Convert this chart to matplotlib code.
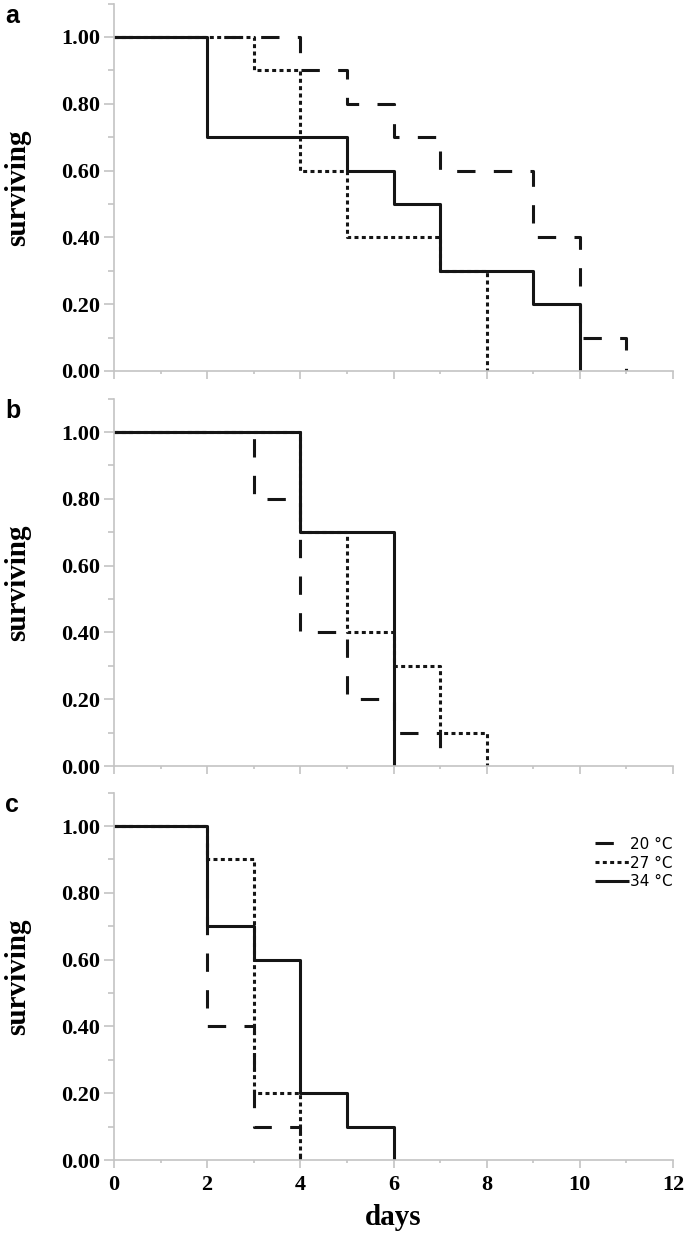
import matplotlib
matplotlib.use('Agg')
import matplotlib.pyplot as plt
from matplotlib.ticker import MultipleLocator, FormatStrFormatter

# survival data (days, fraction surviving), step after each day
labels = ['20 \u00b0C', '27 \u00b0C', '34 \u00b0C']

a_days_20 = [0, 4, 5, 6, 7, 9, 10, 11]
a_surv_20 = [1.0, 0.9, 0.8, 0.7, 0.6, 0.4, 0.1, 0.0]
a_days_27 = [0, 3, 4, 5, 7, 8]
a_surv_27 = [1.0, 0.9, 0.6, 0.4, 0.3, 0.0]
a_days_34 = [0, 2, 5, 6, 7, 9, 10]
a_surv_34 = [1.0, 0.7, 0.6, 0.5, 0.3, 0.2, 0.0]

b_days_20 = [0, 3, 4, 5, 6, 7]
b_surv_20 = [1.0, 0.8, 0.4, 0.2, 0.1, 0.0]
b_days_27 = [0, 4, 5, 6, 7, 8]
b_surv_27 = [1.0, 0.7, 0.4, 0.3, 0.1, 0.0]
b_days_34 = [0, 4, 6]
b_surv_34 = [1.0, 0.7, 0.0]

c_days_20 = [0, 2, 3, 4]
c_surv_20 = [1.0, 0.4, 0.1, 0.0]
c_days_27 = [0, 2, 3, 4]
c_surv_27 = [1.0, 0.9, 0.2, 0.0]
c_days_34 = [0, 2, 3, 4, 5, 6]
c_surv_34 = [1.0, 0.7, 0.6, 0.2, 0.1, 0.0]

panels = [
    ('a', [(a_days_20, a_surv_20), (a_days_27, a_surv_27), (a_days_34, a_surv_34)]),
    ('b', [(b_days_20, b_surv_20), (b_days_27, b_surv_27), (b_days_34, b_surv_34)]),
    ('c', [(c_days_20, c_surv_20), (c_days_27, c_surv_27), (c_days_34, c_surv_34)]),
]

W, H = 685, 1237
fig = plt.figure(figsize=(W / 100.0, H / 100.0), dpi=100)

serif = 'Liberation Serif'
grey = '#c4c4c4'
ink = '#151515'
lw = 2.2
styles = [dict(dashes=(6, 6)), dict(dashes=(1.3, 1.1)), dict(linestyle='-')]

# pixel geometry: left spine x, y pixel of 0.0 for each panel
x_left, x_right = 114, 673
y_zero = [371, 766, 1160]
px_per_unit = 334.0

for i, (letter, series) in enumerate(panels):
    height = 1.1 * px_per_unit
    ax = fig.add_axes([x_left / W, 1 - y_zero[i] / H, (x_right - x_left) / W, height / H])
    for (d, s), st, lab in zip(series, styles, labels):
        ax.step(d, s, where='post', color=ink, lw=lw, label=lab, solid_capstyle='butt',
                dash_capstyle='butt', **st)
    ax.set_xlim(0, 12)
    ax.set_ylim(0, 1.1)
    for side in ['top', 'right']:
        ax.spines[side].set_visible(False)
    for side in ['left', 'bottom']:
        ax.spines[side].set_color(grey)
        ax.spines[side].set_linewidth(1.2)
    ax.xaxis.set_major_locator(MultipleLocator(2))
    ax.xaxis.set_minor_locator(MultipleLocator(1))
    ax.yaxis.set_major_locator(MultipleLocator(0.2))
    ax.yaxis.set_minor_locator(MultipleLocator(0.1))
    ax.yaxis.set_major_formatter(FormatStrFormatter('%.2f'))
    ax.tick_params(axis='x', which='major', length=6, width=1.2, color=grey, direction='out', pad=5)
    ax.tick_params(axis='x', which='minor', length=2.5, width=1.2, color=grey, direction='out')
    ax.tick_params(axis='y', which='major', length=7, width=1.2, color=grey, direction='out', pad=3)
    ax.tick_params(axis='y', which='minor', length=4.5, width=1.2, color=grey, direction='out')
    for t in ax.get_yticklabels():
        t.set_fontfamily(serif)
        t.set_fontweight('bold')
        t.set_fontsize(16)
    if i < 2:
        ax.tick_params(axis='x', labelbottom=False)
    else:
        for t in ax.get_xticklabels():
            t.set_fontfamily(serif)
            t.set_fontweight('bold')
            t.set_fontsize(16)
        ax.set_xlabel('days', fontfamily=serif, fontweight='bold', fontsize=21)
        ax.xaxis.set_label_coords(0.5, -0.12)
        ax.legend(loc='upper right', bbox_to_anchor=(1.0, 0.88), frameon=False,
                  prop={'family': 'DejaVu Sans', 'size': 11}, handlelength=2.2,
                  handletextpad=0.1, labelspacing=0.25, borderpad=0, borderaxespad=0)
    ax.set_ylabel('surviving', fontfamily=serif, fontweight='bold', fontsize=21)
    ax.yaxis.set_label_coords(-0.148, 0.5)
    fig.text(5 / W, 1 - (y_zero[i] - 355) / H, letter, fontfamily='Liberation Sans',
             fontweight='bold', fontsize=18, ha='left', va='center')

fig.savefig('out.png', dpi=100)
